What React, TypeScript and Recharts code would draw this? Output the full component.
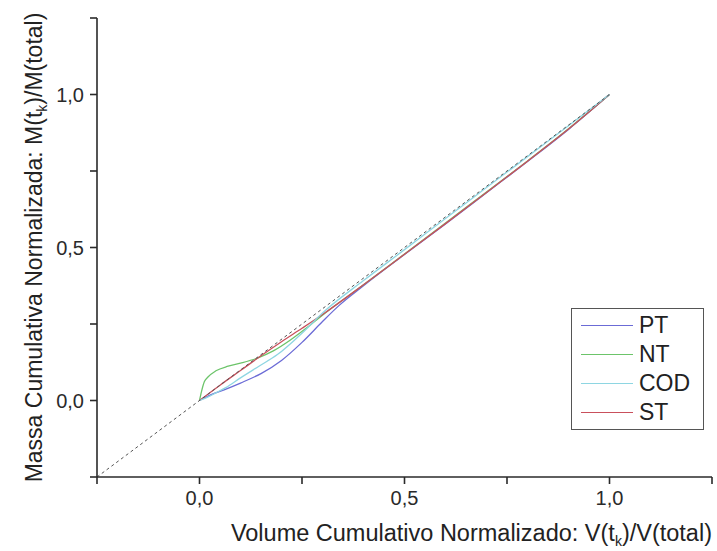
import React from 'react';
import { LineChart, Line, XAxis, YAxis, Label, Legend } from 'recharts';

// normalised cumulative volume (x) and mass (y)
const ptVol = [0, 0.03, 0.06, 0.1, 0.15, 0.2, 0.25, 0.3, 0.34, 0.4, 0.5, 0.6, 0.7, 0.8, 0.9, 1];
const ptMass = [0, 0.02, 0.035, 0.057, 0.088, 0.131, 0.19, 0.258, 0.31, 0.375, 0.477, 0.577, 0.679, 0.781, 0.886, 1];

const ntVol = [0, 0.005, 0.012, 0.02, 0.04, 0.07, 0.1, 0.14, 0.18, 0.22, 0.26, 0.3, 0.4, 0.5, 0.6, 0.7, 0.8, 0.9, 1];
const ntMass = [0, 0.03, 0.062, 0.076, 0.097, 0.112, 0.122, 0.138, 0.162, 0.196, 0.236, 0.279, 0.378, 0.479, 0.58, 0.681, 0.783, 0.888, 1];

const codVol = [0, 0.02, 0.04, 0.064, 0.1, 0.145, 0.19, 0.25, 0.3, 0.4, 0.5, 0.6, 0.7, 0.8, 0.9, 1];
const codMass = [0, 0.011, 0.025, 0.042, 0.074, 0.112, 0.15, 0.22, 0.286, 0.392, 0.493, 0.595, 0.696, 0.797, 0.898, 1];

const stVol = [0, 0.05, 0.1, 0.15, 0.2, 0.25, 0.3, 0.4, 0.5, 0.6, 0.7, 0.8, 0.9, 1];
const stMass = [0, 0.05, 0.098, 0.146, 0.192, 0.236, 0.281, 0.378, 0.478, 0.578, 0.68, 0.782, 0.887, 1];

const diagVol = [-0.25, 1];
const diagMass = [-0.25, 1];

const axisTicks = [-0.25, 0, 0.25, 0.5, 0.75, 1, 1.25];
const labelledTicks = [0, 0.5, 1];

const font = '"Liberation Sans", Arial, sans-serif';

const toPoints = (vol: number[], mass: number[]) => vol.map((x, i) => ({ x, y: mass[i] }));

const series = [
  { name: 'PT', color: '#6b6bd6', data: toPoints(ptVol, ptMass) },
  { name: 'NT', color: '#6cc46a', data: toPoints(ntVol, ntMass) },
  { name: 'COD', color: '#8ed6e2', data: toPoints(codVol, codMass) },
  { name: 'ST', color: '#c9505c', data: toPoints(stVol, stMass) },
];

// cyan last so it stays visible along the diagonal, red just beneath it
const drawOrder = ['PT', 'NT', 'ST', 'COD'];

const fmtTick = (v: number) =>
  labelledTicks.includes(v) ? v.toFixed(1).replace('.', ',') : '';

const LegendBox = () => (
  <div
    style={{
      width: 133,
      height: 122,
      boxSizing: 'border-box',
      border: '1.5px solid #555',
      background: '#fff',
      fontFamily: font,
      paddingTop: 2,
    }}
  >
    {series.map((s) => (
      <div key={s.name} style={{ display: 'flex', alignItems: 'center', height: 29 }}>
        <div style={{ width: 52, marginLeft: 9, borderTop: `1.3px solid ${s.color}` }} />
        <span style={{ marginLeft: 6, fontSize: 23, color: '#222', lineHeight: '29px' }}>{s.name}</span>
      </div>
    ))}
  </div>
);

const XTitle = (props: any) => {
  const { x, y, width } = props.viewBox;
  return (
    <text x={x + width} y={y + 64} textAnchor="end" fontSize={23.5} fill="#222" fontFamily={font}>
      Volume Cumulativo Normalizado: V(t
      <tspan fontSize={14} dy={5}>k</tspan>
      <tspan dy={-5}>)/V(total)</tspan>
    </text>
  );
};

const YTitle = (props: any) => {
  const { y, height } = props.viewBox;
  const cx = 42;
  const cy = y + height / 2;
  return (
    <text
      x={cx}
      y={cy}
      transform={`rotate(-90 ${cx} ${cy})`}
      textAnchor="middle"
      fontSize={23}
      fill="#222"
      fontFamily={font}
    >
      Massa Cumulativa Normalizada: M(t
      <tspan fontSize={14} dy={5}>k</tspan>
      <tspan dy={-5}>)/M(total)</tspan>
    </text>
  );
};

export default function App() {
  return (
    <div style={{ position: 'absolute', left: 0, top: 0, width: 717, height: 551, background: '#fff' }}>
      <LineChart width={717} height={551} margin={{ top: 18, right: 5, left: 37, bottom: 0 }}>
        <XAxis
          type="number"
          dataKey="x"
          domain={[-0.25, 1.25]}
          ticks={axisTicks}
          tickFormatter={fmtTick}
          allowDataOverflow
          interval={0}
          height={74}
          stroke="#2a2a2a"
          strokeWidth={1.6}
          tickSize={7}
          tickMargin={7}
          tick={{ fill: '#2a2a2a', fontSize: 20, fontFamily: font }}
        >
          <Label content={XTitle} />
        </XAxis>
        <YAxis
          type="number"
          dataKey="y"
          domain={[-0.25, 1.25]}
          ticks={axisTicks}
          tickFormatter={fmtTick}
          allowDataOverflow
          interval={0}
          width={60}
          stroke="#2a2a2a"
          strokeWidth={1.6}
          tickSize={7}
          tickMargin={6}
          tick={{ fill: '#2a2a2a', fontSize: 20, fontFamily: font }}
        >
          <Label content={YTitle} />
        </YAxis>
        <Legend
          layout="vertical"
          align="center"
          verticalAlign="middle"
          content={LegendBox}
          wrapperStyle={{ left: 571, top: 308, width: 133, height: 122 }}
        />
        {drawOrder.map((name) => {
          const s = series.find((d) => d.name === name)!;
          return (
            <Line
              key={s.name}
              data={s.data}
              dataKey="y"
              name={s.name}
              type="monotone"
              stroke={s.color}
              strokeWidth={1.3}
              dot={false}
              activeDot={false}
              isAnimationActive={false}
            />
          );
        })}
        <Line
          data={toPoints(diagVol, diagMass)}
          dataKey="y"
          name="1:1"
          type="linear"
          stroke="#555"
          strokeWidth={1}
          strokeDasharray="3 3"
          dot={false}
          activeDot={false}
          legendType="none"
          isAnimationActive={false}
        />
      </LineChart>
    </div>
  );
}
